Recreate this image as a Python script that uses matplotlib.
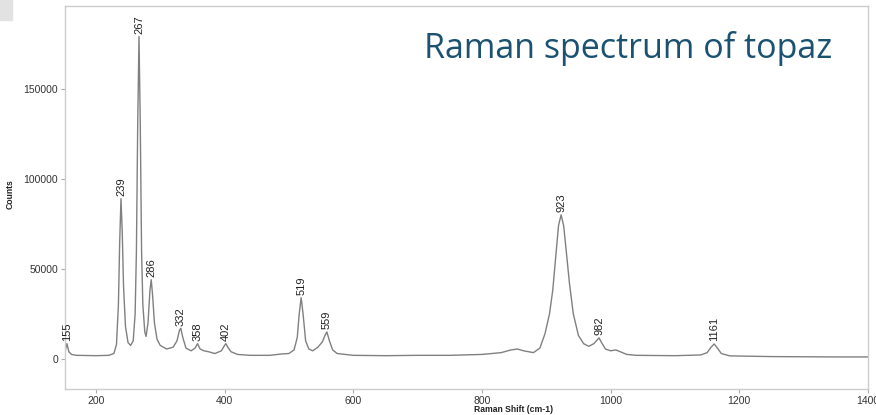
import matplotlib
matplotlib.use("Agg")
import matplotlib.pyplot as plt
from matplotlib.patches import Rectangle

# spectrum (Raman shift in cm-1, counts)
shift = [152, 155, 158, 162, 170, 200, 220, 228, 232, 235, 237, 239, 241, 243,
         246, 250, 254, 258, 261, 263, 265, 267, 269, 271, 273, 276, 278, 281,
         284, 286, 288, 291, 295, 300, 310, 320, 326, 330, 332, 335, 340, 348,
         354, 358, 362, 368, 375, 385, 395, 400, 402, 405, 410, 420, 440, 470,
         490, 500, 508, 513, 516, 519, 522, 526, 531, 537, 545, 552, 556, 559,
         563, 568, 575, 600, 650, 700, 750, 800, 830, 845, 855, 865, 880, 890,
         898, 905, 910, 915, 919, 923, 927, 931, 936, 942, 950, 958, 966, 974,
         979, 982, 986, 992, 1000, 1008, 1015, 1025, 1040, 1100, 1140, 1150,
         1156, 1161, 1166, 1172, 1185, 1250, 1300, 1350, 1400]
counts = [4000, 8500, 4000, 2500, 2000, 1800, 2000, 3000, 8000, 30000, 65000,
          89000, 70000, 40000, 18000, 9000, 7500, 10000, 25000, 60000, 130000,
          179000, 130000, 60000, 30000, 15000, 12500, 20000, 38000, 44000,
          36000, 20000, 11000, 7500, 5500, 6500, 10000, 16000, 17000, 12000,
          6000, 4500, 6000, 8500, 5500, 4500, 4000, 3000, 4500, 7500, 8500,
          6500, 4000, 2500, 2000, 2000, 2800, 3000, 5000, 12000, 25000, 34000,
          25000, 10000, 5500, 4500, 6500, 9500, 13000, 15000, 10000, 5000,
          3000, 2000, 1800, 2000, 2000, 2500, 3500, 5000, 5500, 4500, 3500,
          6000, 14000, 25000, 38000, 58000, 74000, 80000, 74000, 60000, 42000,
          25000, 13000, 8500, 7000, 8500, 10500, 11700, 9000, 5500, 4500, 5000,
          4000, 2500, 2000, 1800, 2200, 3500, 6500, 8300, 6000, 3000, 1700,
          1300, 1200, 1100, 1100]

peak_labels = [155, 239, 267, 286, 332, 358, 402, 519, 559, 923, 982, 1161]

fig = plt.figure(figsize=(8.76, 4.15), dpi=100)
ax = fig.add_axes([65 / 876, 26 / 415, 803 / 876, 383 / 415])

ax.plot(shift, counts, color="#808080", lw=1.0)

lookup = dict(zip(shift, counts))
for p in peak_labels:
    ax.annotate(str(p), xy=(p, lookup[p]), xytext=(0, 2),
                textcoords="offset points", rotation=90, ha="center",
                va="bottom", fontsize=8, family="Liberation Sans",
                color="#222222")

ax.set_xlim(152, 1400)
ax.set_ylim(-16700, 196000)
ax.set_xticks([200, 400, 600, 800, 1000, 1200, 1400])
ax.set_yticks([0, 50000, 100000, 150000])

for s in ax.spines.values():
    s.set_color("#cccccc")
    s.set_linewidth(1.0)
ax.tick_params(length=3, width=0.8, color="#aaaaaa", labelsize=7.5,
               labelcolor="#333333", pad=2)
for lab in ax.get_xticklabels() + ax.get_yticklabels():
    lab.set_family("Liberation Sans")

ax.set_xlabel("Raman Shift (cm-1)", fontsize=6.2, fontweight="bold",
              family="Liberation Sans", color="#222222")
ax.xaxis.set_label_coords(0.558, -0.042)
ax.text(-0.068, 0.51, "Counts", transform=ax.transAxes, rotation=90,
        ha="center", va="center", fontsize=6.2, fontweight="bold",
        family="Liberation Sans", color="#222222")

ax.text(0.956, 0.89, "Raman spectrum of topaz", transform=ax.transAxes,
        ha="right", va="center", fontsize=24.5, family="Open Sans",
        color="#1b5272")

fig.patches.append(Rectangle((0, 395 / 415), 12 / 876, 20 / 415,
                             transform=fig.transFigure, color="#e2e2e2",
                             zorder=0))

fig.savefig("out.png", dpi=100)
